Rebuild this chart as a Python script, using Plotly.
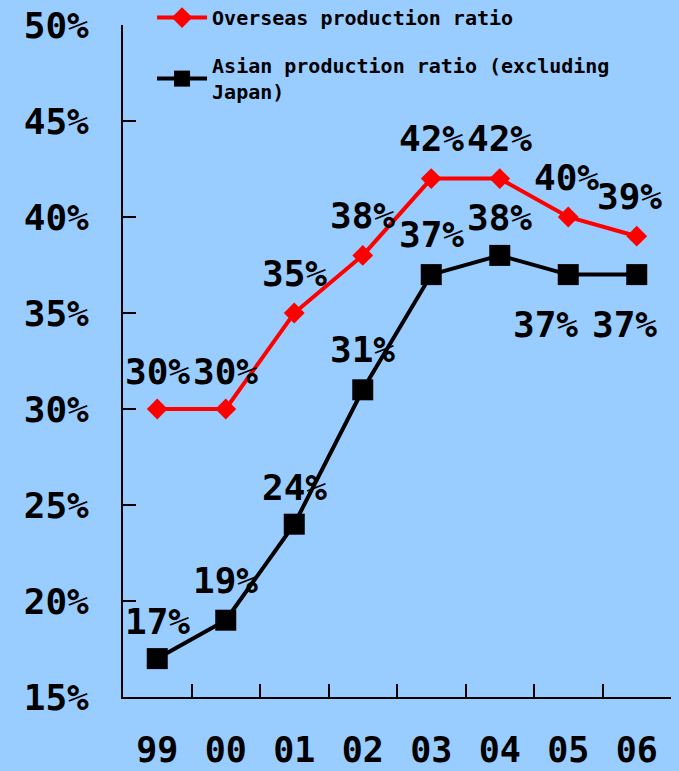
import plotly.graph_objects as go

years = ["99", "00", "01", "02", "03", "04", "05", "06"]
overseas = [0.30, 0.30, 0.35, 0.38, 0.42, 0.42, 0.40, 0.39]
asian = [0.17, 0.19, 0.24, 0.31, 0.37, 0.38, 0.37, 0.37]
ytick_vals = [0.15, 0.20, 0.25, 0.30, 0.35, 0.40, 0.45, 0.50]

FONT = "DejaVu Sans Mono"
LFONT = "DejaVu Sans Mono"
BG = "#99CCFF"
NUMSIZE = 36

fig = go.Figure()
fig.add_trace(go.Scatter(
    x=years, y=overseas, mode="lines+markers", name="Overseas production ratio",
    legendgroup="a",
    line=dict(color="#FF0000", width=4),
    marker=dict(symbol="diamond", size=16, color="#FF0000"),
))
fig.add_trace(go.Scatter(
    x=years, y=asian, mode="lines+markers", name="Asian production ratio (excluding<br>Japan)",
    legendgroup="b",
    line=dict(color="#000000", width=4),
    marker=dict(symbol="square", size=21, color="#000000"),
))

# data labels (x given as category index)
red_shift = [(0, 38), (0, 38), (0, 40), (0, 40), (0, 40), (0, 40), (-2, 40), (-7, 40)]
blk_shift = [(0, 37), (0, 40), (0, 37), (0, 40), (0, 40), (0, 38), (-23, -50), (-12, -50)]
for i, v in enumerate(overseas):
    dx, dy = red_shift[i]
    fig.add_annotation(x=i, y=v, text=f"{round(v*100)}%", showarrow=False,
                       xshift=dx, yshift=dy, font=dict(family=FONT, size=NUMSIZE, color="black", weight="bold"))
for i, v in enumerate(asian):
    dx, dy = blk_shift[i]
    fig.add_annotation(x=i, y=v, text=f"{round(v*100)}%", showarrow=False,
                       xshift=dx, yshift=dy, font=dict(family=FONT, size=NUMSIZE, color="black", weight="bold"))

fig.update_layout(
    width=679, height=771,
    paper_bgcolor=BG, plot_bgcolor=BG,
    margin=dict(l=123, r=8, t=25, b=74, autoexpand=False),
    font=dict(family=FONT, color="black", weight="bold"),
    showlegend=True,
    legend=dict(x=0.053, y=1.040, xanchor="left", yanchor="top",
                bgcolor="rgba(0,0,0,0)", font=dict(family=LFONT, size=20, weight="bold"),
                traceorder="grouped", tracegroupgap=19, itemwidth=50),
    xaxis=dict(type="category", range=[-0.5, 7.5], showgrid=False, zeroline=False,
               automargin=False,
               showline=True, linecolor="black", linewidth=2,
               ticks="inside", tickson="boundaries", ticklen=13, tickwidth=2, tickcolor="black",
               tickfont=dict(family=FONT, size=35, weight="bold"), ticklabelstandoff=21),
    yaxis=dict(range=[0.15, 0.50], showgrid=False, zeroline=False,
               automargin=False,
               showline=True, linecolor="black", linewidth=2,
               tickvals=ytick_vals, tickformat=".0%",
               ticks="inside", ticklen=13, tickwidth=2, tickcolor="black",
               tickfont=dict(family=FONT, size=NUMSIZE, weight="bold"), ticklabelstandoff=25),
)

fig.write_html("out.html")
